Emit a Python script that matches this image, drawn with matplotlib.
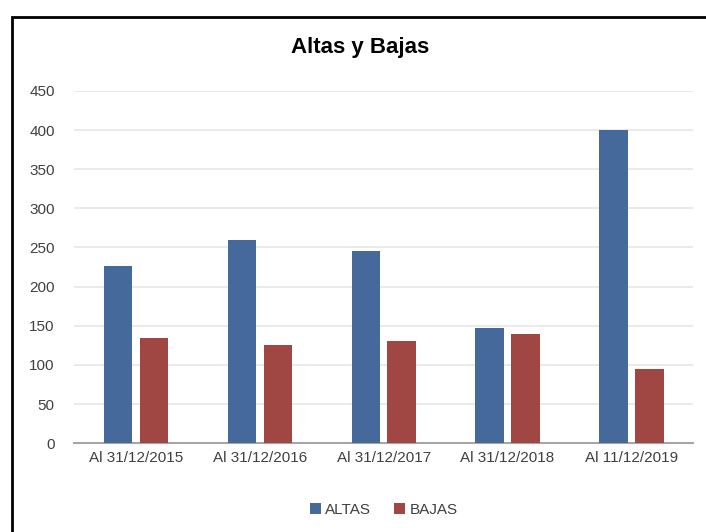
import matplotlib
matplotlib.use('Agg')
import matplotlib.pyplot as plt
import matplotlib.patches as mpatches
import numpy as np

plt.rcParams['font.family'] = ['Liberation Sans Narrow', 'Liberation Sans', 'DejaVu Sans']

# Data
categories = ['Al 31/12/2015', 'Al 31/12/2016', 'Al 31/12/2017', 'Al 31/12/2018', 'Al 11/12/2019']
altas = [226, 260, 245, 147, 400]
bajas = [134, 125, 130, 139, 95]

fig = plt.figure(figsize=(7.06, 5.32), dpi=100)
ax = fig.add_axes([0.105, 0.167, 0.877, 0.662])

x = np.arange(len(categories))
w = 0.23
ax.bar(x - 0.145, altas, w, color='#44699A', label='ALTAS', zorder=3)
ax.bar(x + 0.145, bajas, w, color='#A04744', label='BAJAS', zorder=3)

ax.set_ylim(0, 450)
ax.set_xlim(-0.5, len(categories) - 0.5)
ax.set_yticks(np.arange(0, 451, 50))
ax.set_xticks(x)
ax.set_xticklabels(categories)
ax.tick_params(axis='both', length=0, labelsize=11, colors='#404040', pad=6)
ax.tick_params(axis='y', pad=14)
ax.grid(axis='y', color='#E6E6E6', linewidth=1.2, zorder=0)
for s in ['top', 'right', 'left']:
    ax.spines[s].set_visible(False)
ax.spines['bottom'].set_color('#A6A6A6')
ax.spines['bottom'].set_linewidth(1.5)

fig.text(0.51, 0.91, 'Altas y Bajas', ha='center', va='center', fontsize=16, fontweight='bold')

ax.legend(loc='center', bbox_to_anchor=(0.5, -0.19), ncol=2, frameon=False,
          fontsize=11, handlelength=0.7, handleheight=0.7, handletextpad=0.3,
          columnspacing=1.5, labelcolor='#404040')

# outer frame
frame = mpatches.Rectangle((12 / 706, -0.05), 1.1, 1 - 17 / 532 + 0.05, transform=fig.transFigure,
                           fill=False, edgecolor='black', linewidth=2, clip_on=False)
fig.patches.append(frame)

fig.savefig('out.png', dpi=100)
